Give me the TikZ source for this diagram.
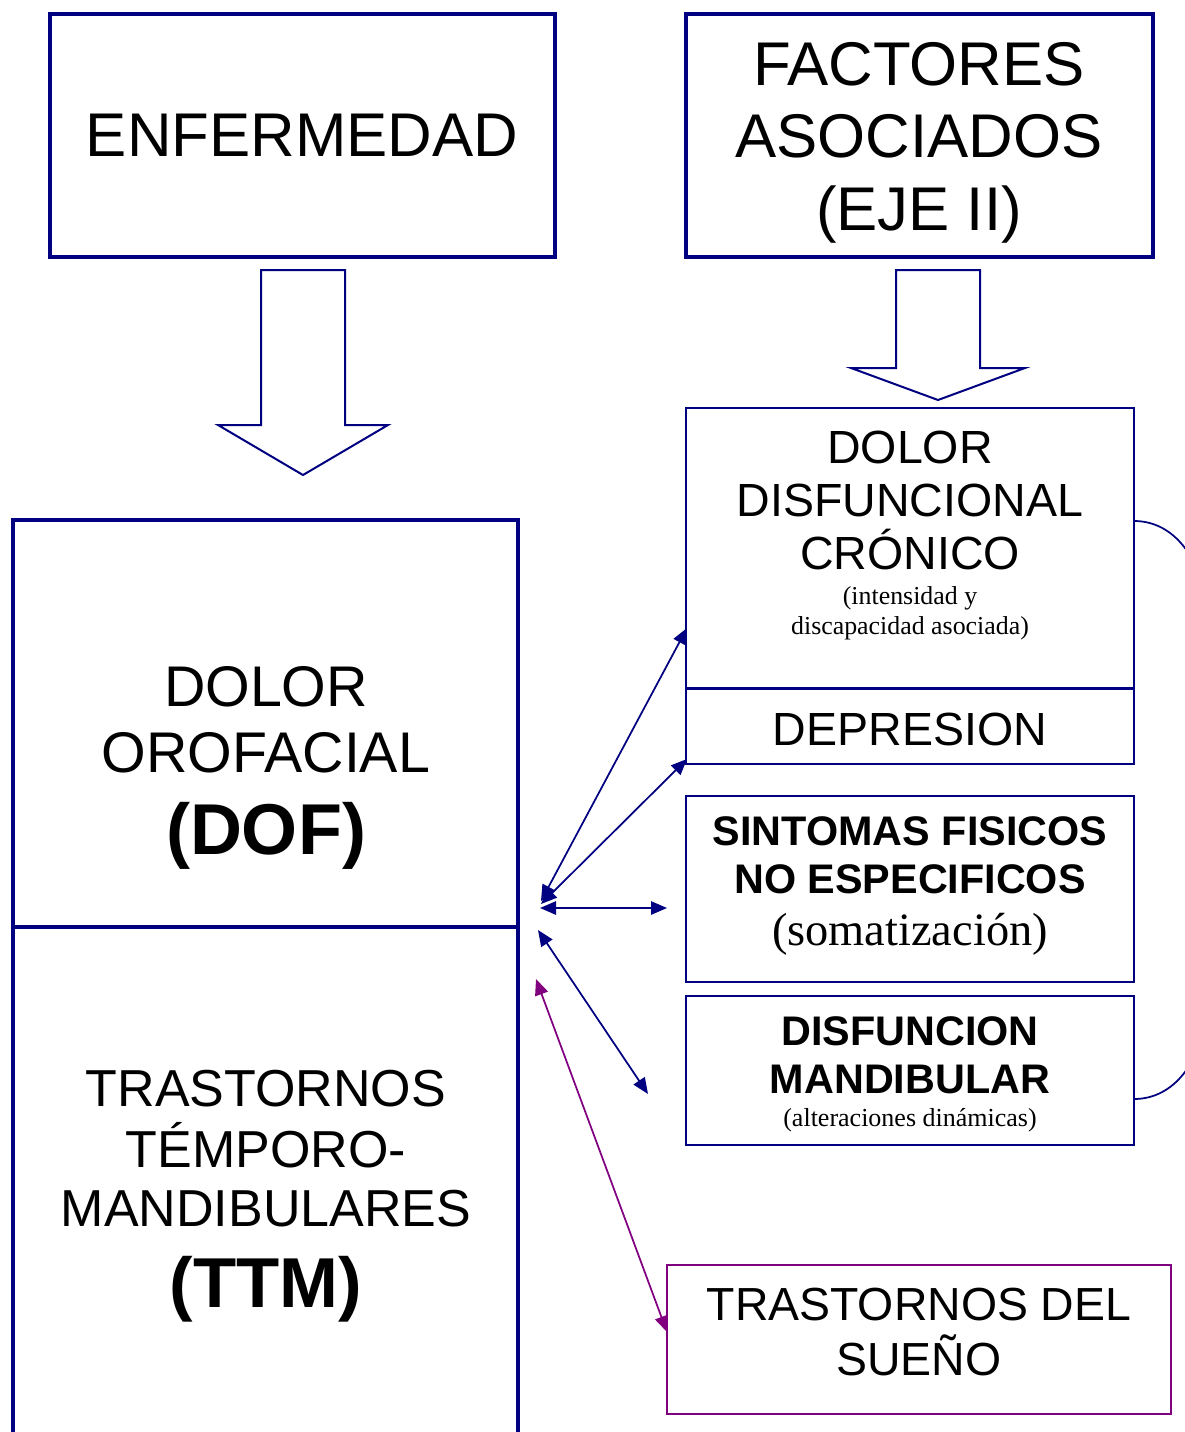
\documentclass[tikz,border=0pt]{standalone}
\usepackage{fontspec}
\setmainfont{Liberation Sans}
\newfontfamily\tms{Liberation Serif}
\usetikzlibrary{arrows.meta,fit}
\definecolor{navy}{RGB}{0,0,128}
\definecolor{purp}{RGB}{128,0,128}
\begin{document}
\begin{tikzpicture}[x=0.75pt,y=-0.75pt,
  thickbox/.style={draw=navy,line width=3pt,inner sep=0pt},
  thinbox/.style={draw=navy,line width=1.5pt,inner sep=0pt},
  sleepbox/.style={draw=purp,line width=1.3pt,inner sep=0pt},
  txt/.style={anchor=base,inner sep=0pt,text=black},
  blockarrow/.style={draw=navy,line width=1.5pt,fill=white,line join=miter},
  link/.style={draw=navy,line width=1.3pt,{Triangle[length=12pt,width=10pt]}-{Triangle[length=12pt,width=10pt]}},
  sleeplink/.style={link,draw=purp},
]
\clip (0,0) rectangle (1185,1432);
\useasboundingbox (0,0) rectangle (1185,1432);

% top boxes
\node[thickbox, fit={(50,14) (555,257)}] (enf) {};
\node[txt, font=\fontsize{46.3}{54}\selectfont] (enft) at (302,156) {ENFERMEDAD};
\node[thickbox, fit={(686,14) (1153,257)}] (fac) {};
\node[txt, font=\fontsize{46.3}{54}\selectfont] (fac1) at (919,85) {FACTORES};
\node[txt, font=\fontsize{46.3}{54}\selectfont] (fac2) at (919,157) {ASOCIADOS};
\node[txt, font=\fontsize{46.3}{54}\selectfont] (fac3) at (919,230) {(EJE II)};

% block arrows
\draw[blockarrow] (261,270) -- (345,270) -- (345,425) -- (388,425) -- (303,475) -- (218,425) -- (261,425) -- cycle;
\draw[blockarrow] (896,270) -- (980,270) -- (980,368) -- (1025,368) -- (938,400) -- (851,368) -- (896,368) -- cycle;

% left column
\node[thickbox, fit={(13,520) (518,927)}] (dof) {};
\node[thickbox, fit={(13,927) (518,1500)}] (ttm) {};
\node[txt, font=\fontsize{43}{50}\selectfont] (dof1) at (266,706) {DOLOR};
\node[txt, font=\fontsize{43}{50}\selectfont] (dof2) at (266,772) {OROFACIAL};
\node[txt, font=\fontsize{54}{60}\selectfont\bfseries] (dof3) at (266,854) {(DOF)};
\node[txt, font=\fontsize{39}{45}\selectfont] (ttm1) at (266,1106) {TRASTORNOS};
\node[txt, font=\fontsize{39}{45}\selectfont] (ttm2) at (266,1167) {TÉMPORO-};
\node[txt, font=\fontsize{39}{45}\selectfont] (ttm3) at (266,1226) {MANDIBULARES};
\node[txt, font=\fontsize{53}{60}\selectfont\bfseries] (ttm4) at (266,1307) {(TTM)};

% right column
\node[thinbox, fit={(686,408) (1134,688)}] (dd) {};
\node[thinbox, fit={(686,688) (1134,764)}] (dep) {};
\draw[navy, line width=2pt] (dd.south west) -- (dd.south east);
\node[txt, font=\fontsize{34.9}{40}\selectfont] (dd1) at (910,463) {DOLOR};
\node[txt, font=\fontsize{34.9}{40}\selectfont] (dd2) at (910,516) {DISFUNCIONAL};
\node[txt, font=\fontsize{34.9}{40}\selectfont] (dd3) at (910,569) {CRÓNICO};
\node[txt, font=\tms\fontsize{19.4}{22}\selectfont] (dd4) at (910,604) {(intensidad y};
\node[txt, font=\tms\fontsize{19.4}{22}\selectfont] (dd5) at (910,634) {discapacidad asociada)};
\node[txt, font=\fontsize{34.9}{40}\selectfont] (dept) at (910,745) {DEPRESION};

\node[thinbox, fit={(686,796) (1134,982)}] (sint) {};
\node[txt, font=\fontsize{31}{36}\selectfont\bfseries] (sint1) at (910,845) {SINTOMAS FISICOS};
\node[txt, font=\fontsize{31}{36}\selectfont\bfseries] (sint2) at (910,893) {NO ESPECIFICOS};
\node[txt, font=\tms\fontsize{34.8}{40}\selectfont] (sint3) at (910,945) {(somatización)};

\node[thinbox, fit={(686,996) (1134,1145)}] (disf) {};
\node[txt, font=\fontsize{31}{36}\selectfont\bfseries] (disf1) at (910,1045) {DISFUNCION};
\node[txt, font=\fontsize{31}{36}\selectfont\bfseries] (disf2) at (910,1093) {MANDIBULAR};
\node[txt, font=\tms\fontsize{19.5}{22}\selectfont] (disf3) at (910,1126) {(alteraciones dinámicas)};

\node[sleepbox, fit={(667,1265) (1171,1414)}] (sleep) {};
\node[txt, font=\fontsize{34.8}{40}\selectfont] (sl1) at (919,1320) {TRASTORNOS DEL};
\node[txt, font=\fontsize{34.8}{40}\selectfont] (sl2) at (919,1375) {SUEÑO};

% connector endpoints
\coordinate (h1) at (541,901);
\coordinate (h2) at (541,904);
\coordinate (h3) at (540,908);
\coordinate (h4) at (538,930);
\coordinate (h5) at (536,979);
\coordinate (e1) at (687,628);
\coordinate (e2) at (687,759);
\coordinate (e3) at (667,908);
\coordinate (e4) at (648,1094);
\coordinate (e5) at (667,1332);

\draw[link] (h1) -- (e1);
\draw[link] (h2) -- (e2);
\draw[link] (h3) -- (e3);
\draw[link] (h4) -- (e4);
\draw[sleeplink] (h5) -- (e5);

% bracket curve on the right
\coordinate (c1) at (1134,521);
\coordinate (c2) at (1134,1099);
\draw[navy, line width=1.3pt] (c1) .. controls (1175,521) and (1200,560) .. (1205,600)
  -- (1205,1020) .. controls (1200,1060) and (1175,1099) .. (c2);
\end{tikzpicture}
\end{document}
